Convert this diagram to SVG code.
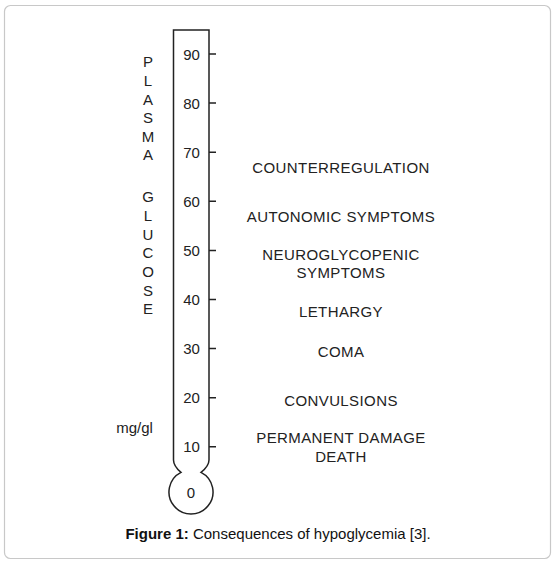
<svg xmlns="http://www.w3.org/2000/svg" width="555" height="564" viewBox="0 0 555 564">
<style>
.t{font-family:"Liberation Sans",Arial,sans-serif;font-size:15px;fill:#222}
.c{text-anchor:middle}
.lb{letter-spacing:0.4px}
.ln{stroke:#222;stroke-width:1.5;fill:none}
</style>
<rect x="0" y="0" width="555" height="564" fill="#fff"/>
<rect x="4.5" y="5.5" width="546" height="553" rx="6" fill="#fff" stroke="#c8c8c8" stroke-width="1.2"/>
<g id="thermometer">
<path class="ln" d="M173.5,30 H209 V460 Q209,466 201,472.4 A22,22 0 1 1 181,472.4 Q173.5,466 173.5,460 Z"/>
</g>
<g id="ticks">
<path class="ln" d="M209,54 H216 M209,103.1 H216 M209,152.2 H216 M209,201.3 H216 M209,250.4 H216 M209,299.5 H216 M209,348.6 H216 M209,397.7 H216 M209,446.8 H216"/>
</g>
<g id="scale" class="t c">
<text x="191.5" y="59.5">90</text>
<text x="191.5" y="108.5">80</text>
<text x="191.5" y="157.5">70</text>
<text x="191.5" y="206.5">60</text>
<text x="191.5" y="255.5">50</text>
<text x="191.5" y="304.5">40</text>
<text x="191.5" y="353.5">30</text>
<text x="191.5" y="402.5">20</text>
<text x="191.5" y="451.5">10</text>
<text x="191" y="497.5">0</text>
</g>
<g id="axis-label" class="t c">
<text x="148" y="67">P</text>
<text x="148" y="86">L</text>
<text x="148" y="104.5">A</text>
<text x="148" y="123">S</text>
<text x="148" y="141.5">M</text>
<text x="148" y="160">A</text>
<text x="148" y="202">G</text>
<text x="148" y="221">L</text>
<text x="148" y="239.5">U</text>
<text x="148" y="258">C</text>
<text x="148" y="277">O</text>
<text x="148" y="295.5">S</text>
<text x="148" y="314">E</text>
<text x="134.5" y="433">mg/gl</text>
</g>
<g id="labels" class="t c lb">
<text x="341" y="172.5">COUNTERREGULATION</text>
<text x="341" y="222">AUTONOMIC SYMPTOMS</text>
<text x="341" y="260">NEUROGLYCOPENIC</text>
<text x="341" y="277.5">SYMPTOMS</text>
<text x="341" y="317">LETHARGY</text>
<text x="341" y="356.5">COMA</text>
<text x="341" y="406">CONVULSIONS</text>
<text x="341" y="443">PERMANENT DAMAGE</text>
<text x="341" y="462">DEATH</text>
</g>
<g id="caption">
<text class="t" x="278" y="539" text-anchor="middle" style="fill:#111"><tspan font-weight="bold">Figure 1:</tspan> Consequences of hypoglycemia [3].</text>
</g>
</svg>
